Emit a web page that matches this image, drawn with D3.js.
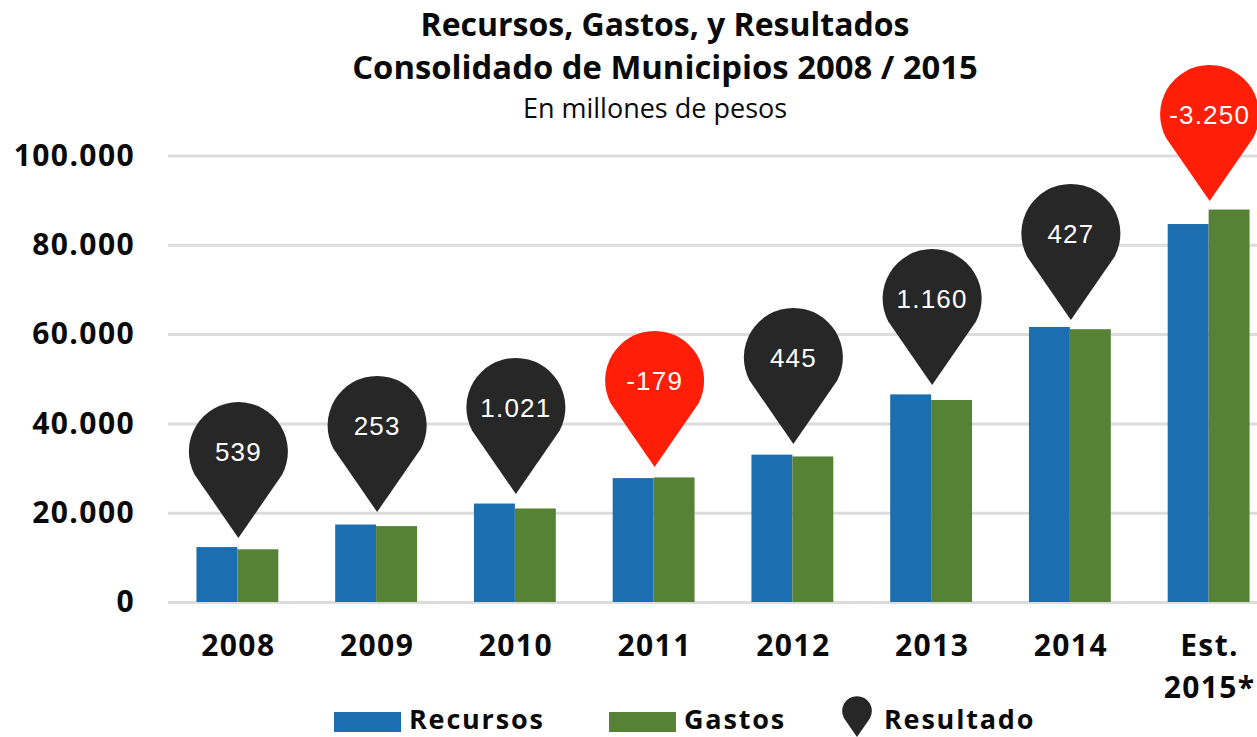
<!DOCTYPE html>
<html lang="es">
	<head>
		<meta charset="utf-8">
		<title>Recursos, Gastos, y Resultados</title>
		<script src="https://d3js.org/d3.v7.min.js"></script>
		<style>
			body { margin: 0; background: #fff; }
			svg { display: block; }
			text { font-family: "Open Sans", sans-serif; fill: #0a0a0a; }
			.bold { font-weight: 700; letter-spacing: 1.4px; }
			.tick line { stroke: #dcdcdc; stroke-width: 3; }
			.pin-label { font-family: "Liberation Sans", sans-serif; fill: #fff; letter-spacing: 1.2px; }
		</style>
	</head>
	<body>
		<script>
			// Data
			var years = ["2008", "2009", "2010", "2011", "2012", "2013", "2014", "Est. 2015*"];
			var recursos = [12300, 17350, 22050, 27750, 33000, 46500, 61600, 84650];
			var gastos = [11800, 17000, 20950, 27900, 32600, 45250, 61100, 87900];
			var resultado = [539, 253, 1021, -179, 445, 1160, 427, -3250];
			// height the tip of each pin points at, in axis units
			var pinTips = [14330, 20160, 24190, 30240, 35390, 48600, 63160, 89810];
			var yTicks = [0, 20000, 40000, 60000, 80000, 100000];

			var w = 1257, h = 737;
			var left = 168, right = 1278, top_ = 155.5, bottom = 602;

			var es = d3.formatLocale({ decimal: ",", thousands: ".", grouping: [3], currency: ["$", ""], minus: "-" });
			var fmt = es.format(",d");

			var svg = d3.select("body").append("svg").attr("width", w).attr("height", h);

			var x = d3.scaleBand().domain(years).range([left, right]).paddingInner(0.41).paddingOuter(0.205);
			var xSub = d3.scaleBand().domain(["recursos", "gastos"]).range([0, x.bandwidth()]);
			var y = d3.scaleLinear().domain([0, 100000]).range([bottom, top_]);
			var colors = { recursos: "#1b6eb0", gastos: "#558235" };

			// Title
			var titleLines = ["Recursos, Gastos, y Resultados", "Consolidado de Municipios 2008 / 2015"];
			svg.selectAll(".title").data(titleLines).enter().append("text")
				.attr("class", "title")
				.attr("x", 665)
				.attr("y", function(d, i) { return 36 + i * 43; })
				.attr("text-anchor", "middle")
				.style("font-size", function(d, i) { return i ? "32.8px" : "32px"; })
				.style("font-weight", 700)
				.text(function(d) { return d; });

			svg.append("text")
				.attr("x", 655).attr("y", 118)
				.attr("text-anchor", "middle")
				.style("font-size", "27px")
				.text("En millones de pesos");

			// Y axis and gridlines
			svg.append("g")
				.attr("transform", "translate(" + left + ",0)")
				.call(d3.axisLeft(y).tickValues(yTicks).tickFormat(fmt).tickSize(-(right - left)).tickPadding(33))
				.call(function(g) { g.select(".domain").remove(); })
				.selectAll("text")
				.attr("class", "bold")
				.attr("dy", "0.32em")
				.style("font-size", "30px");

			// Bars
			var series = [["recursos", recursos], ["gastos", gastos]];
			var groups = svg.selectAll(".serie").data(series).enter().append("g")
				.attr("class", "serie")
				.style("fill", function(d) { return colors[d[0]]; });

			groups.each(function(s) {
				d3.select(this).selectAll("rect").data(s[1]).enter().append("rect")
					.attr("x", function(d, i) { return x(years[i]) + xSub(s[0]); })
					.attr("y", function(d) { return y(d); })
					.attr("width", xSub.bandwidth())
					.attr("height", function(d) { return y(0) - y(d); });
			});

			// X axis labels ("Est. 2015*" goes on two lines)
			var xLabels = svg.selectAll(".year").data(years).enter().append("text")
				.attr("class", "year bold")
				.attr("text-anchor", "middle")
				.attr("y", 656)
				.style("font-size", "30px");

			xLabels.each(function(d) {
				var el = d3.select(this);
				var cx = x(d) + x.bandwidth() / 2 + 1;
				d.split(" ").forEach(function(part, i) {
					el.append("tspan")
						.attr("x", cx)
						.attr("dy", i ? 42 : 0)
						.text(part);
				});
			});

			// Pin shape, tip at 0,0
			function pinPath(s) {
				var r = 49.5 * s, cy = -86.5 * s;
				var a = Math.atan2(22, 42);
				var p = d3.path();
				p.moveTo(0, 0);
				p.lineTo(-r * Math.cos(a), cy + r * Math.sin(a));
				p.arc(0, cy, r, Math.PI - a, a, false);
				p.closePath();
				return p.toString();
			}

			var pins = svg.selectAll(".pin").data(resultado).enter().append("g")
				.attr("class", "pin")
				.attr("transform", function(d, i) {
					return "translate(" + (x(years[i]) + x.bandwidth() / 2 + 1) + "," + y(pinTips[i]) + ")";
				});

			pins.append("path")
				.attr("d", pinPath(1))
				.attr("fill", function(d) { return d < 0 ? "#ff1e07" : "#272727"; });

			pins.append("text")
				.attr("class", "pin-label")
				.attr("text-anchor", "middle")
				.attr("y", -77)
				.style("font-size", "26px")
				.text(function(d) { return fmt(d); });

			// Legend
			var legend = svg.append("g");
			[["recursos", "Recursos", 334], ["gastos", "Gastos", 609]].forEach(function(l) {
				legend.append("rect")
					.attr("x", l[2]).attr("y", 712)
					.attr("width", 67).attr("height", 20)
					.attr("fill", colors[l[0]]);
				legend.append("text")
					.attr("class", "bold")
					.attr("x", l[2] + 75).attr("y", 729)
					.style("font-size", "27px")
					.style("letter-spacing", "1.8px")
					.text(l[1]);
			});
			legend.append("path")
				.attr("transform", "translate(857,737)")
				.attr("d", pinPath(0.3))
				.attr("fill", "#272727");
			legend.append("text")
				.attr("class", "bold")
				.attr("x", 884).attr("y", 729)
				.style("font-size", "27px")
				.style("letter-spacing", "1.8px")
				.text("Resultado");
		</script>
	</body>
</html>
